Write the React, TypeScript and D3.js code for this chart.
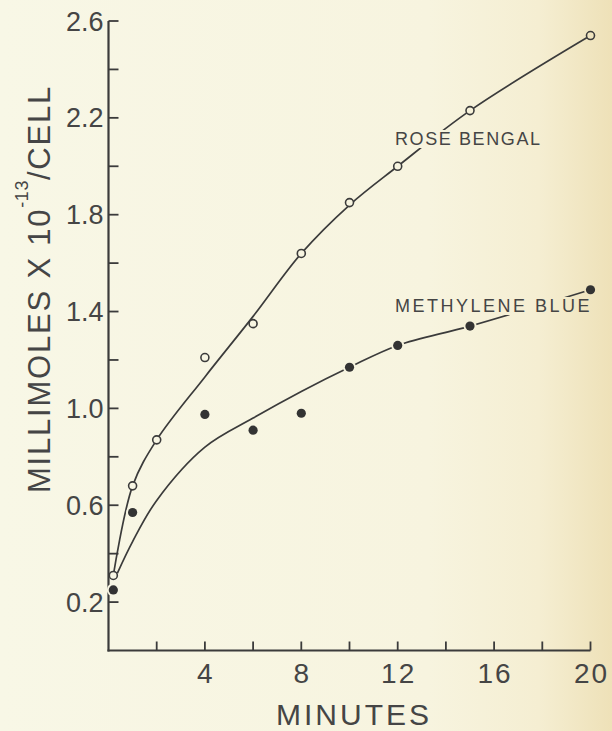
import React, { useEffect, useRef } from "react";
import * as d3 from "d3";

// Measured uptake points (minutes, millimoles x 10^-13 per cell)
const roseTimes = [0.2, 1, 2, 4, 6, 8, 10, 12, 15, 20];
const roseValues = [0.31, 0.68, 0.87, 1.21, 1.35, 1.64, 1.85, 2.0, 2.23, 2.54];
const blueTimes = [0.2, 1, 4, 6, 8, 10, 12, 15, 20];
const blueValues = [0.25, 0.57, 0.975, 0.91, 0.98, 1.17, 1.26, 1.34, 1.49];

// Smoothed fit curves drawn through the data
const roseFitTimes = [0.2, 1, 2, 4, 6, 8, 10, 12, 15, 20];
const roseFitValues = [0.31, 0.68, 0.87, 1.13, 1.38, 1.64, 1.84, 2.0, 2.23, 2.54];
const blueFitTimes = [0.37, 1, 2, 4, 6, 8, 10, 12, 15, 20];
const blueFitValues = [0.32, 0.45, 0.62, 0.84, 0.96, 1.07, 1.17, 1.26, 1.34, 1.49];

// Axis ticks
const xMajorTicks = [4, 8, 12, 16, 20];
const xMinorTicks = [2, 4, 6, 8, 10, 12, 14, 16, 18, 20];
const yMajorTicks = [0.2, 0.6, 1.0, 1.4, 1.8, 2.2, 2.6];
const yMinorTicks = [0.2, 0.4, 0.6, 0.8, 1.0, 1.2, 1.4, 1.6, 1.8, 2.0, 2.2, 2.4, 2.6];

const W = 612;
const H = 731;
const INK = "#3b3b3b";
const TEXT = "#454545";
const FONT = "'Liberation Sans', Arial, sans-serif";

export default function App() {
  const ref = useRef<SVGSVGElement | null>(null);

  useEffect(() => {
    const svg = d3.select(ref.current);
    svg.selectAll("*").remove();

    const defs = svg.append("defs");
    const grad = defs
      .append("linearGradient")
      .attr("id", "paper")
      .attr("gradientUnits", "userSpaceOnUse")
      .attr("x1", 0)
      .attr("y1", 0)
      .attr("x2", W)
      .attr("y2", 0);
    grad.append("stop").attr("offset", 0).attr("stop-color", "#f8f7e6");
    grad.append("stop").attr("offset", 0.7).attr("stop-color", "#f7f4df");
    grad.append("stop").attr("offset", 0.88).attr("stop-color", "#f5eed2");
    grad.append("stop").attr("offset", 1).attr("stop-color", "#eee1b8");
    const paper = "url(#paper)";

    svg.append("rect").attr("width", W).attr("height", H).attr("fill", paper);

    const x = d3.scaleLinear().domain([0, 20]).range([108.5, 590.5]);
    const y = d3.scaleLinear().domain([0, 2.6]).range([650.5, 21]);

    const g = svg.append("g");

    // Axes
    g.append("line")
      .attr("x1", x(0)).attr("x2", x(0))
      .attr("y1", y(0) + 1).attr("y2", y(2.6))
      .attr("stroke", INK).attr("stroke-width", 2.2);
    g.append("line")
      .attr("x1", x(0) - 1).attr("x2", x(20))
      .attr("y1", y(0)).attr("y2", y(0))
      .attr("stroke", INK).attr("stroke-width", 2.2);

    g.selectAll(".yt")
      .data(yMinorTicks)
      .join("line")
      .attr("x1", x(0)).attr("x2", x(0) + 10)
      .attr("y1", (d) => y(d)).attr("y2", (d) => y(d))
      .attr("stroke", INK).attr("stroke-width", 1.8);

    g.selectAll(".xt")
      .data(xMinorTicks)
      .join("line")
      .attr("x1", (d) => x(d)).attr("x2", (d) => x(d))
      .attr("y1", y(0)).attr("y2", y(0) - 9)
      .attr("stroke", INK).attr("stroke-width", 1.8);

    g.selectAll(".yl")
      .data(yMajorTicks)
      .join("text")
      .attr("x", x(0) - 5)
      .attr("y", (d) => y(d) + 9.5)
      .attr("text-anchor", "end")
      .attr("font-family", FONT)
      .attr("font-size", 27)
      .attr("fill", TEXT)
      .text((d) => d.toFixed(1));

    g.selectAll(".xl")
      .data(xMajorTicks)
      .join("text")
      .attr("x", (d) => x(d) + 1)
      .attr("y", 683)
      .attr("text-anchor", "middle")
      .attr("font-family", FONT)
      .attr("font-size", 28)
      .attr("letter-spacing", 2)
      .attr("fill", TEXT)
      .text((d) => String(d));

    g.append("text")
      .attr("x", 354)
      .attr("y", 725)
      .attr("text-anchor", "middle")
      .attr("font-family", FONT)
      .attr("font-size", 30)
      .attr("letter-spacing", 3)
      .attr("fill", TEXT)
      .text("MINUTES");

    // Rotated y-axis title with superscript exponent
    const yt = g
      .append("text")
      .attr("transform", "translate(50,289) rotate(-90)")
      .attr("text-anchor", "middle")
      .attr("font-family", FONT)
      .attr("font-size", 31)
      .attr("letter-spacing", 1.8)
      .attr("fill", TEXT);
    yt.append("tspan").text("MILLIMOLES X 10");
    yt.append("tspan").attr("dy", -22).attr("font-size", 18).attr("letter-spacing", 0.5).text("-13");
    yt.append("tspan").attr("dy", 22).text("/CELL");

    // Fit curves
    const line = d3
      .line<[number, number]>()
      .x((d) => x(d[0]))
      .y((d) => y(d[1]))
      .curve(d3.curveCatmullRom.alpha(0.5));

    const roseFit: [number, number][] = roseFitTimes.map((t, i) => [t, roseFitValues[i]]);
    const blueFit: [number, number][] = blueFitTimes.map((t, i) => [t, blueFitValues[i]]);

    g.append("path")
      .attr("d", line(roseFit))
      .attr("fill", "none")
      .attr("stroke", INK)
      .attr("stroke-width", 1.7);
    g.append("path")
      .attr("d", line(blueFit))
      .attr("fill", "none")
      .attr("stroke", INK)
      .attr("stroke-width", 1.7);

    // Curve labels, with paper behind them so the lines break around the text
    const addLabel = (tx: number, ty: number, label: string, spacing: number) => {
      const grp = g.append("g");
      const bg = grp.append("rect").attr("fill", paper);
      const t = grp
        .append("text")
        .attr("x", tx)
        .attr("y", ty)
        .attr("font-family", FONT)
        .attr("font-size", 18)
        .attr("letter-spacing", spacing)
        .attr("fill", TEXT)
        .text(label);
      const bb = (t.node() as SVGTextElement).getBBox();
      bg.attr("x", bb.x - 2)
        .attr("y", ty - 15)
        .attr("width", bb.width + 2)
        .attr("height", 18);
    };
    addLabel(395, 145, "ROSE BENGAL", 1.6);
    addLabel(395, 312, "METHYLENE BLUE", 2.5);

    // Rose bengal: open circles
    g.selectAll(".rose")
      .data(roseTimes.map((t, i) => [t, roseValues[i]] as [number, number]))
      .join("circle")
      .attr("cx", (d) => x(d[0]))
      .attr("cy", (d) => y(d[1]))
      .attr("r", 4)
      .attr("fill", paper)
      .attr("stroke", INK)
      .attr("stroke-width", 1.6);

    // Methylene blue: filled circles with a small clear halo
    const bluePts = blueTimes.map((t, i) => [t, blueValues[i]] as [number, number]);
    g.selectAll(".blueHalo")
      .data(bluePts)
      .join("circle")
      .attr("cx", (d) => x(d[0]))
      .attr("cy", (d) => y(d[1]))
      .attr("r", 6.5)
      .attr("fill", paper);
    g.selectAll(".blue")
      .data(bluePts)
      .join("circle")
      .attr("cx", (d) => x(d[0]))
      .attr("cy", (d) => y(d[1]))
      .attr("r", 4.6)
      .attr("fill", "#333");
  }, []);

  return (
    <svg
      ref={ref}
      width={W}
      height={H}
      style={{ position: "absolute", left: 0, top: 0, display: "block" }}
    />
  );
}
